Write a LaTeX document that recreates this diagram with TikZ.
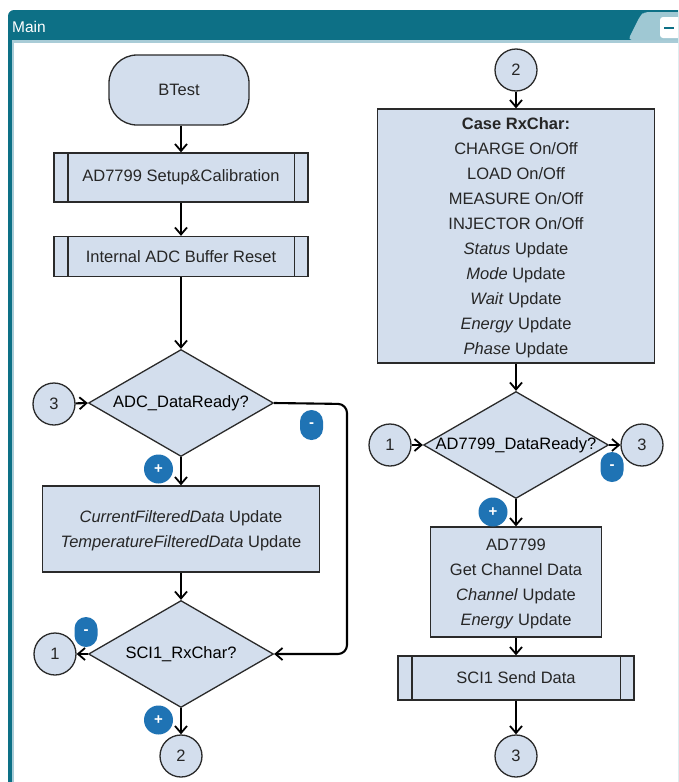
\documentclass[tikz,border=0pt]{standalone}
\usepackage{fontspec}
\setmainfont{Liberation Sans}
\usetikzlibrary{shapes.geometric,arrows.meta}
\definecolor{frameteal}{HTML}{0D7086}
\definecolor{framelight}{HTML}{A9CCD7}
\definecolor{tablight}{HTML}{9FC8D3}
\definecolor{nodefill}{HTML}{D3DEED}
\definecolor{nodeline}{HTML}{2A2A2A}
\definecolor{nodetext}{HTML}{262626}
\definecolor{badgeblue}{HTML}{1F73B4}
\tikzset{
  base/.style={draw=nodeline, fill=nodefill, text=nodetext, line width=1.3pt, inner sep=0pt, align=center},
  terminal/.style={base, rectangle, rounded corners=28pt, minimum width=140pt, minimum height=70pt},
  procbox/.style={base, rectangle, minimum width=#1},
  dia/.style={base, diamond, minimum width=185pt, minimum height=107pt},
  conncircle/.style={base, circle, minimum size=42pt},
  plusbadge/.style={circle, fill=badgeblue, minimum size=29pt, inner sep=0pt, text=white, font=\fontsize{15}{15}\selectfont\bfseries},
  minusbadge/.style={rectangle, rounded corners=11.5pt, fill=badgeblue, minimum width=23pt, minimum height=30pt, inner sep=0pt, text=white, font=\fontsize{15}{15}\selectfont\bfseries},
  conn/.style={draw=black, line width=2.1pt, -{Straight Barb[length=7pt,width=12pt,line width=1.8pt]}},
  sideline/.style={draw=nodeline, line width=1.3pt},
}
\begin{document}
\begin{tikzpicture}[x=1pt,y=-1pt, font=\fontsize{16.5}{25}\selectfont]
\useasboundingbox (0,0) rectangle (678,782);
% ---------- window frame ----------
\begin{scope}
\clip (0,0) rectangle (678,782);
\fill[white] (0,0) rectangle (678,782);
\fill[frameteal, rounded corners=6pt] (8,10) rectangle (720,820);
\fill[framelight] (12,40) rectangle (720,820);
\fill[white] (14,43) rectangle (720,820);
\fill[tablight, rounded corners=4pt] (628,40) -- (640,16) -- (644,12) -- (720,12) -- (720,40) -- cycle;
\fill[white, rounded corners=3pt] (660,17) rectangle (700,38);
\draw[frameteal, line width=1.6pt] (664,28) -- (674,28);
\node[anchor=west, text=white, font=\fontsize{15.5}{15.5}\selectfont, inner sep=0pt] (title) at (12,27) {Main};
\end{scope}
% ---------- left column ----------
\node[terminal] (btest) at (179,90) {BTest};
\node[procbox=254pt, minimum height=49pt] (setup) at (181,177.5) {AD7799 Setup\&Calibration};
\node[procbox=254pt, minimum height=40pt] (reset) at (181,256.5) {Internal ADC Buffer Reset};
\node[dia, label=center:{ADC\_DataReady?}] (adc) at (181,403) {};
\node[conncircle] (c3L) at (54,404) {3};
\node[procbox=277pt, minimum height=86pt, text depth=0pt] (cur) at (181,529) {\textit{CurrentFilteredData} Update\\\textit{TemperatureFilteredData} Update};
\node[dia, label=center:{SCI1\_RxChar?}] (sci) at (181,654) {};
\node[conncircle] (c1L) at (55,654) {1};
\node[conncircle] (c2L) at (181,756) {2};
\coordinate (k1) at (347,404);
\coordinate (k2) at (347,654);
% predefined-process side lines
\foreach \n in {setup,reset}{
  \draw[sideline] ([xshift=14.5pt]\n.north west) -- ([xshift=14.5pt]\n.south west);
  \draw[sideline] ([xshift=-14.5pt]\n.north east) -- ([xshift=-14.5pt]\n.south east);
}
% ---------- right column ----------
\node[conncircle] (c2R) at (516,70) {2};
\node[procbox=277pt, minimum height=254pt, text depth=0pt] (case) at (516,236) {\textbf{Case RxChar:}\\CHARGE On/Off\\LOAD On/Off\\MEASURE On/Off\\INJECTOR On/Off\\\textit{Status} Update\\\textit{Mode} Update\\\textit{Wait} Update\\\textit{Energy} Update\\\textit{Phase} Update};
\node[dia, label=center:{AD7799\_DataReady?}] (ad) at (516,445) {};
\node[conncircle] (c1R) at (390,445) {1};
\node[conncircle] (c3R) at (642,445) {3};
\node[procbox=171pt, minimum height=110pt, text depth=0pt] (adbox) at (516,582) {AD7799\\Get Channel Data\\\textit{Channel} Update\\\textit{Energy} Update};
\node[procbox=236pt, minimum height=44pt] (send) at (516,678) {SCI1 Send Data};
\node[conncircle] (c3B) at (516,756) {3};
\draw[sideline] ([xshift=14.5pt]send.north west) -- ([xshift=14.5pt]send.south west);
\draw[sideline] ([xshift=-14pt]send.north east) -- ([xshift=-14pt]send.south east);
% ---------- connectors ----------
\draw[conn] (btest.south -| setup) -- (setup);
\draw[conn] (setup) -- (reset);
\draw[conn] (reset) -- (adc.north);
\draw[conn] (c3L) -- (adc.west);
\draw[conn] (adc.south) -- (cur.north);
\draw[conn, rounded corners=9pt] (adc.east) -- (k1) -- (k2) -- (sci.east);
\draw[conn] (cur.south) -- (sci.north);
\draw[conn] (sci.west) -- (c1L);
\draw[conn] (sci.south) -- (c2L);
\draw[conn] (c2R) -- (case);
\draw[conn] (case) -- (ad.north);
\draw[conn] (c1R) -- (ad.west);
\draw[conn] (ad.east) -- (c3R);
\draw[conn] (ad.south) -- (adbox.north);
\draw[conn] (adbox) -- (send);
\draw[conn] (send) -- (c3B);
% ---------- badges ----------
\node[minusbadge] (m1) at (311.5,425) {-};
\node[plusbadge] (p1) at (158.5,469) {+};
\node[minusbadge] (m2) at (86,632) {-};
\node[plusbadge] (p2) at (158.5,720) {+};
\node[minusbadge] (m3) at (612,467) {-};
\node[plusbadge] (p3) at (493,512) {+};
\end{tikzpicture}
\end{document}
